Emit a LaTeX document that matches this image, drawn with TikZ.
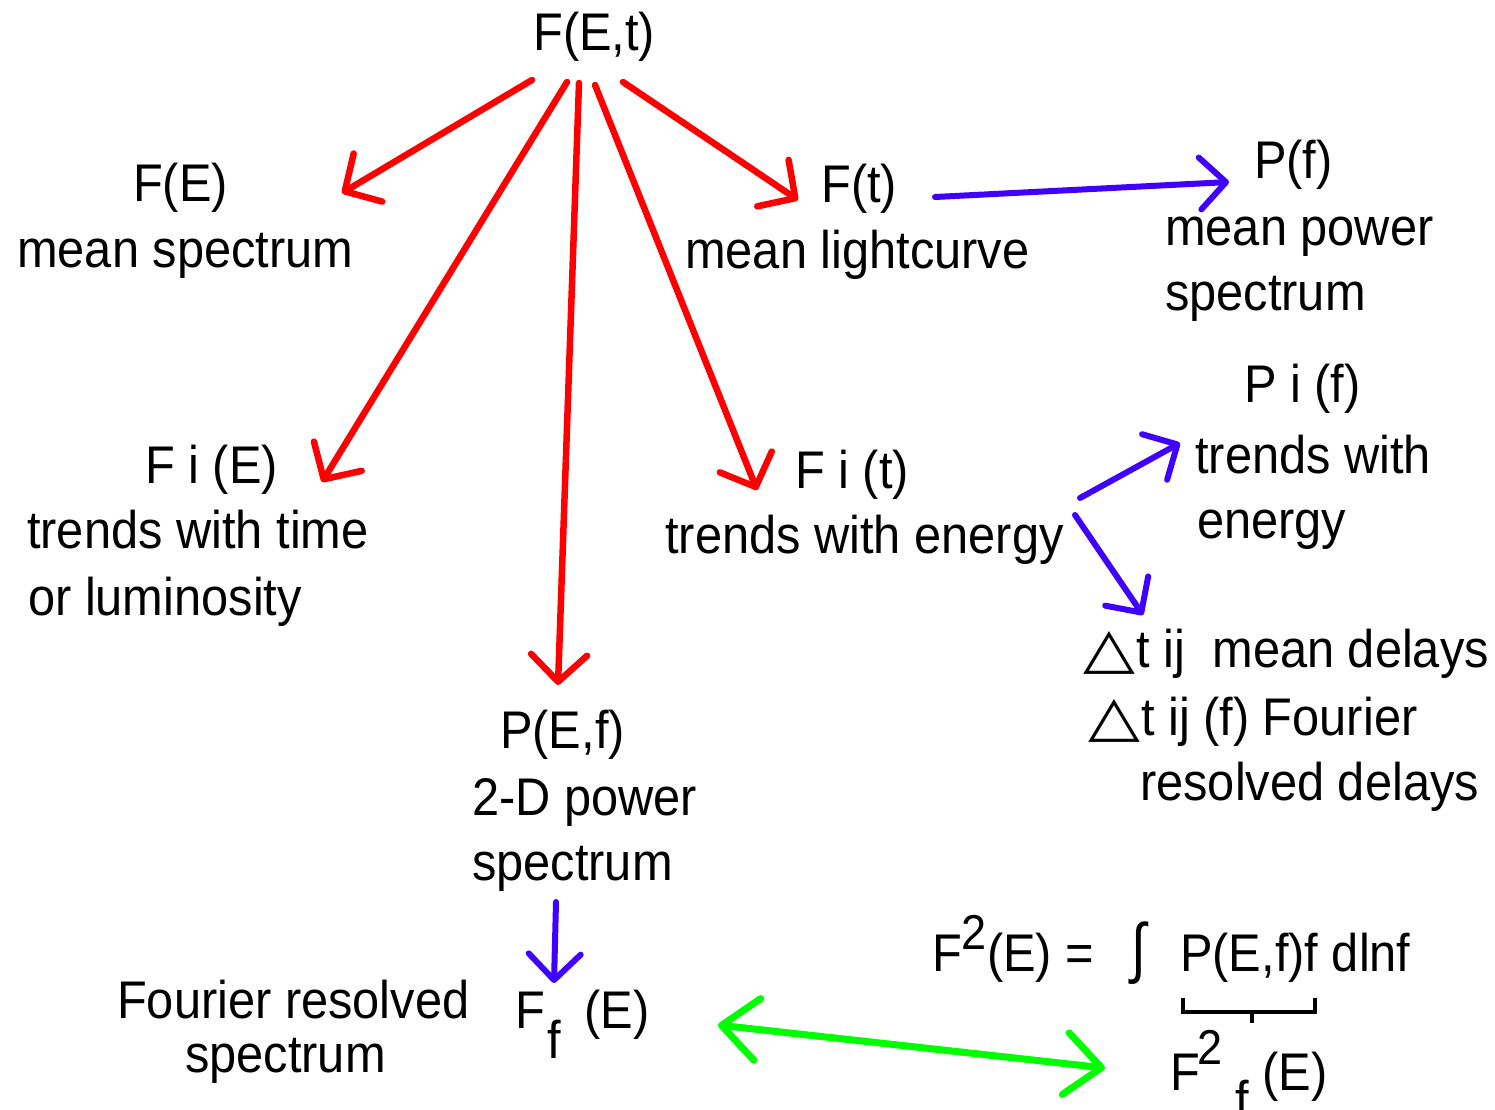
\documentclass[tikz,border=0pt]{standalone}
\usepackage{fontspec}
\setmainfont{Liberation Sans}[FakeStretch=0.92]
\newfontfamily\symfont{DejaVu Sans}
\usetikzlibrary{arrows.meta}
\definecolor{redA}{RGB}{255,0,0}
\definecolor{blueA}{RGB}{64,0,255}
\definecolor{greenA}{RGB}{0,255,0}
\newcommand{\smalltwo}{{\fontsize{49}{49}\selectfont 2}}
\newcommand{\tri}{{\symfont\fontsize{50}{50}\selectfont\scalebox{1.35}[1.12]{△}}}
\begin{document}
\begin{tikzpicture}[x=1pt,y=-1pt,
  lbl/.style={anchor=base west, inner sep=0pt, font=\fontsize{53}{64}\selectfont},
  redarr/.style={draw=redA, line width=6.5pt, line cap=round, line join=round,
    -{Straight Barb[length=27pt,width=56pt,round]}},
  bluearr/.style={draw=blueA, line width=6pt, line cap=round, line join=round,
    -{Straight Barb[length=26pt,width=52pt,round]}},
  greenarr/.style={draw=greenA, line width=7pt, line cap=round, line join=round,
    {Straight Barb[length=36pt,width=62pt,round]}-{Straight Barb[length=36pt,width=62pt,round]}},
  bracket/.style={draw=black, line width=3.5pt}]
\useasboundingbox (0,0) rectangle (1495,1109);

% ---- texts ----
\node[lbl] (FEt) at (533,50) {F(E,t)};
\node[lbl] (FE) at (133,201) {F(E)};
\node[lbl] (FEa) at (17,267) {mean spectrum};
\node[lbl] (Ft) at (821,202) {F(t)};
\node[lbl] (Fta) at (685,268) {mean lightcurve};
\node[lbl] (Pf) at (1254,178) {P(f)};
\node[lbl] (Pfa) at (1165,245) {mean power};
\node[lbl] (Pfb) at (1165,310) {spectrum};
\node[lbl] (Pif) at (1244,402) {P i (f)};
\node[lbl] (Pifa) at (1195,473) {trends with};
\node[lbl] (Pifb) at (1197,538) {energy};
\node[lbl] (FiE) at (145,483) {F i (E)};
\node[lbl] (FiEa) at (27,548) {trends with time};
\node[lbl] (FiEb) at (28,615) {or luminosity};
\node[lbl] (Fit) at (795,488) {F i (t)};
\node[lbl] (Fita) at (665,553) {trends with energy};
\node[lbl] (Dt) at (1083,667) {\tri\hspace{1pt}t ij\hspace{14pt} mean delays};
\node[lbl] (Dta) at (1088,735) {\tri\hspace{1pt}t ij (f) Fourier};
\node[lbl] (Dtb) at (1140,800) {resolved delays};
\node[lbl] (PEf) at (500,748) {P(E,f)};
\node[lbl] (PEfa) at (472,815) {2-D power};
\node[lbl] (PEfb) at (472,880) {spectrum};
\node[lbl] (FR) at (117,1018) {Fourier resolved};
\node[lbl] (FRa) at (185,1072) {spectrum};
\node[lbl] (Ff) at (515,1028) {F\hspace{3pt}\raisebox{-30pt}{f}\hspace{23pt}(E)};
\node[lbl] (F2) at (932,971) {F\raisebox{22pt}{\smalltwo}(E) =};
\node[lbl, anchor=center] (Int) at (1139,953) {\scalebox{1.1}[1.25]{∫}};
\node[lbl] (Pint) at (1180,971) {P(E,f)f dlnf};
\node[lbl] (F2f) at (1170,1090) {F\hspace{-3pt}\raisebox{26pt}{\smalltwo}\hspace{13pt}\raisebox{-28pt}{f}\hspace{14pt}(E)};

% ---- connector end points ----
\coordinate (r1s) at (532,80);  \coordinate (r1e) at (342,193);
\coordinate (r2s) at (567,82);  \coordinate (r2e) at (322,482);
\coordinate (r3s) at (579,83);  \coordinate (r3e) at (558,685);
\coordinate (r4s) at (595,85);  \coordinate (r4e) at (757,490);
\coordinate (r5s) at (623,82);  \coordinate (r5e) at (798,200);
\coordinate (b1s) at (935,197); \coordinate (b1e) at (1229,182);
\coordinate (b2s) at (1080,498); \coordinate (b2e) at (1180,443);
\coordinate (b3s) at (1075,515); \coordinate (b3e) at (1143,615);
\coordinate (b4s) at (556,902); \coordinate (b4e) at (554,983);
\coordinate (g1) at (718,1025); \coordinate (g2) at (1105,1068);

% ---- red arrows from F(E,t) ----
\draw[redarr] (r1s) -- (r1e);
\draw[redarr] (r2s) -- (r2e);
\draw[redarr] (r3s) -- (r3e);
\draw[redarr] (r4s) -- (r4e);
\draw[redarr] (r5s) -- (r5e);

% ---- blue arrows ----
\draw[bluearr] (b1s) -- (b1e);
\draw[bluearr] (b2s) -- (b2e);
\draw[bluearr] (b3s) -- (b3e);
\draw[bluearr] (b4s) -- (b4e);

% ---- green double arrow ----
\draw[greenarr] (g1) -- (g2);

% ---- bracket under P(E,f)f ----
\coordinate (brL) at (1183,998);
\coordinate (brR) at (1315,998);
\coordinate (brM) at (1252,1012);
\draw[bracket] (brL) -- (brL |- brM) -- (brR |- brM) -- (brR);
\draw[bracket] (brM) -- ++(0,11);
\end{tikzpicture}
\end{document}
